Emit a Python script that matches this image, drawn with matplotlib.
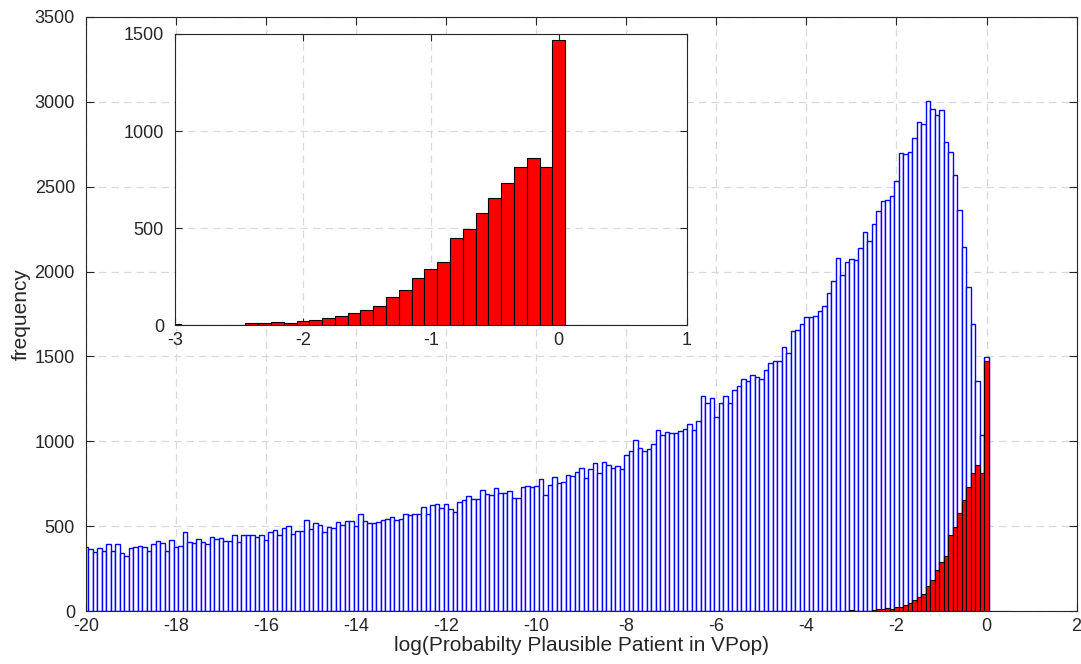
import numpy as np
from matplotlib import pyplot as plt

plt.rcParams['font.family'] = ['Liberation Sans', 'DejaVu Sans']
plt.rcParams['axes.unicode_minus'] = False

# bin centres (0.1 wide) and counts of the full population
blue_centers = np.round(np.arange(-200, 1) * 0.1, 1)
blue_counts = [
    376, 363, 347, 373, 351, 396, 355, 396, 339, 326,
    373, 377, 386, 375, 355, 392, 414, 402, 355, 416,
    375, 381, 465, 406, 398, 425, 408, 396, 437, 427,
    430, 410, 410, 449, 404, 445, 449, 449, 439, 449,
    420, 467, 480, 445, 490, 500, 455, 474, 472, 537,
    482, 521, 508, 463, 494, 490, 523, 506, 531, 533,
    500, 570, 533, 518, 518, 522, 535, 545, 553, 537,
    543, 570, 566, 572, 572, 614, 570, 623, 629, 606,
    633, 600, 582, 643, 653, 676, 661, 659, 714, 688,
    681, 724, 698, 694, 706, 665, 665, 732, 739, 728,
    735, 779, 682, 741, 788, 757, 759, 804, 794, 820,
    845, 785, 836, 870, 815, 878, 863, 843, 854, 835,
    918, 943, 1010, 963, 943, 953, 985, 1067, 1035, 1053,
    1047, 1049, 1063, 1075, 1102, 1067, 1120, 1269, 1228, 1257,
    1143, 1226, 1269, 1224, 1302, 1324, 1367, 1355, 1388, 1379,
    1367, 1418, 1459, 1471, 1475, 1557, 1520, 1651, 1655, 1694,
    1735, 1733, 1737, 1767, 1796, 1873, 1942, 2082, 1982, 2056,
    2072, 2066, 2137, 2231, 2179, 2283, 2357, 2416, 2422, 2446,
    2536, 2697, 2695, 2705, 2789, 2884, 2867, 3004, 2960, 2924,
    2950, 2765, 2705, 2568, 2365, 2147, 1908, 1693, 1357, 1040,
    1498,
]

# plausible patients
red_centers = np.round(np.arange(-30, 6) * 0.1, 1)
red_counts = [
    5, 3, 2, 1, 1, 4, 10, 12, 17, 14,
    24, 26, 38, 48, 63, 80, 101, 147, 181, 241,
    291, 324, 447, 497, 579, 654, 731, 815, 863, 815,
    1471, 0, 0, 0, 0, 0,
]

xticks_main = np.arange(-20, 3, 2)
yticks_main = np.arange(0, 3501, 500)
xticks_ins = [-3, -2, -1, 0, 1]
yticks_ins = [0, 500, 1000, 1500]

axcol = '#262626'
gridkw = dict(color='#d9d9d9', linestyle=(0, (6, 4)), linewidth=0.9)

fig = plt.figure(figsize=(10.81, 6.64), dpi=100)
ax = fig.add_axes([0.0796, 0.0798, 0.9163, 0.8946])
ax.bar(blue_centers, blue_counts, width=0.1, facecolor='white',
       edgecolor='blue', linewidth=1.0)
ax.bar(red_centers, red_counts, width=0.1, facecolor='red',
       edgecolor='black', linewidth=0.8)
ax.set_xlim(-20, 2)
ax.set_ylim(0, 3500)
ax.set_xticks(xticks_main)
ax.set_yticks(yticks_main)
ax.set_axisbelow(True)
ax.grid(True, **gridkw)
ax.tick_params(direction='in', top=True, right=True, labelsize=13,
               colors=axcol, length=6)
ax.tick_params(axis='y', pad=8)
ax.tick_params(axis='x', pad=5)
for s in ax.spines.values():
    s.set_color(axcol)
    s.set_linewidth(0.8)
ax.set_xlabel('log(Probabilty Plausible Patient in VPop)', fontsize=15,
              color=axcol, labelpad=1)
ax.set_ylabel('frequency', fontsize=15, color=axcol, labelpad=3)

# zoomed view of the plausible patients
ins = fig.add_axes([0.1619, 0.5101, 0.4733, 0.4387])
ins.bar(red_centers, red_counts, width=0.1, facecolor='red',
        edgecolor='black', linewidth=0.8)
ins.set_xlim(-3, 1)
ins.set_ylim(0, 1500)
ins.set_xticks(xticks_ins)
ins.set_yticks(yticks_ins)
ins.set_axisbelow(True)
ins.grid(True, **gridkw)
ins.tick_params(direction='in', top=True, right=True, labelsize=13,
                colors=axcol, length=5)
ins.tick_params(axis='y', pad=8)
ins.tick_params(axis='x', pad=5)
for s in ins.spines.values():
    s.set_color(axcol)
    s.set_linewidth(0.8)

plt.savefig('out.png', dpi=100)
